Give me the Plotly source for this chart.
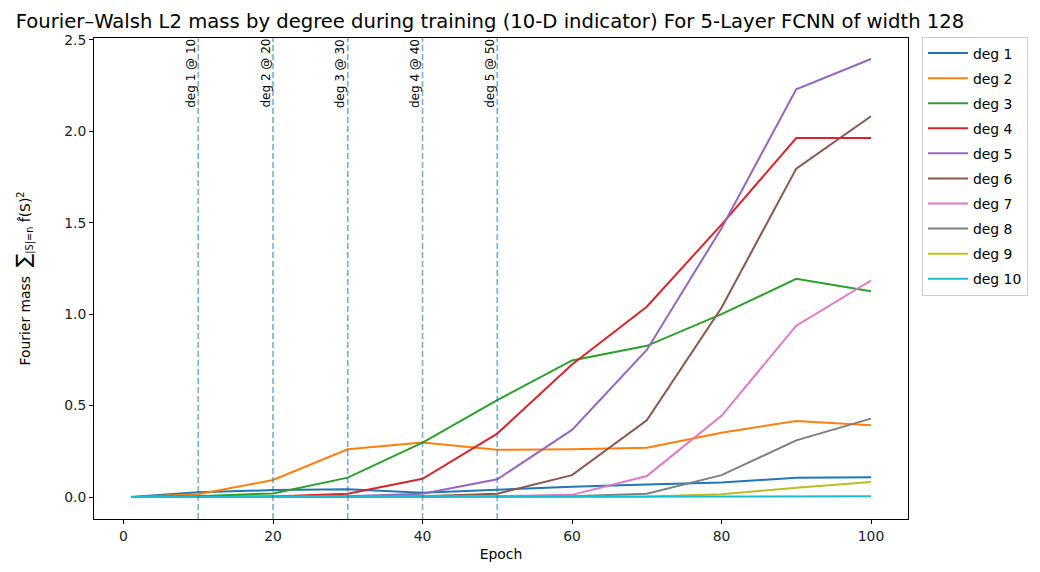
import plotly.graph_objects as go

# Training epochs at which the Fourier–Walsh spectrum was measured
epochs = [1, 10, 20, 30, 40, 50, 60, 70, 80, 90, 100]

# L2 mass per Walsh degree at each epoch
deg1 = [0.0, 0.026, 0.038, 0.042, 0.024, 0.040, 0.057, 0.068, 0.080, 0.105, 0.108]
deg2 = [0.0, 0.015, 0.093, 0.261, 0.298, 0.258, 0.261, 0.270, 0.352, 0.416, 0.393]
deg3 = [0.0, 0.005, 0.020, 0.106, 0.298, 0.530, 0.747, 0.827, 1.000, 1.193, 1.125]
deg4 = [0.0, 0.001, 0.003, 0.018, 0.100, 0.347, 0.725, 1.041, 1.490, 1.963, 1.963]
deg5 = [0.0, 0.0, 0.001, 0.005, 0.018, 0.097, 0.367, 0.804, 1.470, 2.230, 2.395]
deg6 = [0.0, 0.0, 0.0, 0.001, 0.005, 0.018, 0.120, 0.420, 1.035, 1.796, 2.082]
deg7 = [0.0, 0.0, 0.0, 0.0, 0.001, 0.004, 0.012, 0.115, 0.444, 0.937, 1.184]
deg8 = [0.0, 0.0, 0.0, 0.0, 0.0, 0.001, 0.004, 0.018, 0.120, 0.310, 0.429]
deg9 = [0.0, 0.0, 0.0, 0.0, 0.0, 0.0, 0.001, 0.003, 0.015, 0.051, 0.082]
deg10 = [0.0, 0.0, 0.0, 0.0, 0.0, 0.0, 0.0, 0.001, 0.002, 0.003, 0.004]

series = [deg1, deg2, deg3, deg4, deg5, deg6, deg7, deg8, deg9, deg10]
labels = [f"deg {i}" for i in range(1, 11)]

# Epoch at which each low degree is marked
marker_degrees = [1, 2, 3, 4, 5]
marker_epochs = [10, 20, 30, 40, 50]

tab10 = ["#1f77b4", "#ff7f0e", "#2ca02c", "#d62728", "#9467bd",
         "#8c564b", "#e377c2", "#7f7f7f", "#bcbd22", "#17becf"]

FONT = "DejaVu Sans, Liberation Sans, sans-serif"

fig = go.Figure()
for vals, name, color in zip(series, labels, tab10):
    fig.add_trace(go.Scatter(
        x=epochs, y=vals, mode="lines", name=name, legendgroup=name,
        line=dict(color=color, width=2),
    ))

for d, ep in zip(marker_degrees, marker_epochs):
    fig.add_shape(
        type="line", xref="x", yref="paper", x0=ep, x1=ep, y0=0, y1=1,
        line=dict(color="rgba(31,119,180,0.6)", width=1.6, dash="6px,3px"),
        layer="above",
    )
    fig.add_annotation(
        x=ep, xref="x", y=1, yref="paper", text=f"deg {d} @ {ep}",
        textangle=-90, showarrow=False, xanchor="right", yanchor="top",
        borderpad=0,
        font=dict(family=FONT, size=12, color="#000000"),
    )

ytitle = ("Fourier mass  <span style=\"font-size:20px\">∑</span>"
          "<sub>|S|=n</sub> f\u0302(S)<sup>2</sup>")

axis_common = dict(
    showline=True, linecolor="#000000", linewidth=1, mirror=True,
    ticks="outside", ticklen=4, tickwidth=1, tickcolor="#000000",
    showgrid=False, zeroline=False,
    tickfont=dict(family=FONT, size=13.9, color="#222222"),
)

fig.update_layout(
    width=1040, height=572,
    margin=dict(l=94, r=132, t=38, b=53),
    paper_bgcolor="white", plot_bgcolor="white",
    font=dict(family=FONT, size=13.9, color="#000000"),
    title=dict(
        text="Fourier–Walsh L2 mass by degree during training (10-D indicator) For 5-Layer FCNN of width 128",
        x=0.4865, xref="paper", xanchor="center",
        y=1 - 21 / 572, yref="container", yanchor="middle",
        font=dict(family=FONT, size=19.6, color="#000000"),
    ),
    xaxis=dict(
        range=[-3.95, 104.95], tickvals=[0, 20, 40, 60, 80, 100],
        title=dict(text="Epoch", standoff=6,
                   font=dict(family=FONT, size=13.9, color="#000000")),
        **axis_common,
    ),
    yaxis=dict(
        range=[-0.12, 2.51], tickvals=[0, 0.5, 1.0, 1.5, 2.0, 2.5],
        tickformat=".1f",
        title=dict(text=ytitle, standoff=30,
                   font=dict(family=FONT, size=13.9, color="#000000")),
        **axis_common,
    ),
    legend=dict(
        x=1.0172, xanchor="left", y=1.003, yanchor="top",
        bordercolor="#cccccc", borderwidth=1, bgcolor="white",
        font=dict(family=FONT, size=13.9, color="#000000"),
        tracegroupgap=4, itemwidth=40, entrywidth=70,
    ),
    showlegend=True,
)

fig.write_html("out.html")
